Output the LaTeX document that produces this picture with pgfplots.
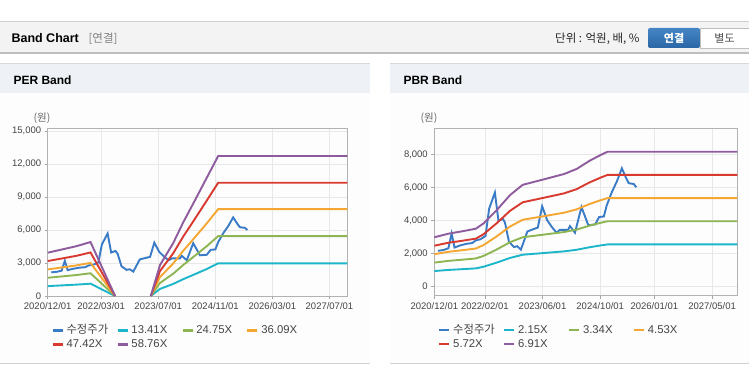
\documentclass[border=0pt]{standalone}
\usepackage{fontspec}
\setmainfont{Liberation Sans}
\newfontfamily\kr{Noto Sans CJK KR}
\usepackage{pgfplots}
\usepackage{pgfplotstable}
\pgfplotsset{compat=1.18}

\definecolor{cPrice}{HTML}{3A7BC8}
\definecolor{cCyan}{HTML}{1CB5C9}
\definecolor{cGreen}{HTML}{8DB653}
\definecolor{cOrange}{HTML}{F5A733}
\definecolor{cRed}{HTML}{D93A2F}
\definecolor{cPurple}{HTML}{8E5B9E}
\definecolor{hdrbg}{HTML}{F3F3F3}
\definecolor{ttlbg}{HTML}{EEF2F7}
\definecolor{bodybg}{HTML}{FDFDFD}
\definecolor{lineg}{HTML}{CFCFCF}
\definecolor{txt}{HTML}{444444}
\definecolor{btnA}{HTML}{4585C6}
\definecolor{btnB}{HTML}{2A66A5}

\pgfplotstableread{
x y
1.0 2150
2.5 2200
3.9 2300
4.8 3200
5.6 2350
7.2 2480
9.0 2580
10.5 2620
11.5 2780
12.8 2850
14.2 3050
15.2 4700
16.8 5680
17.8 3950
19.0 4100
19.6 3850
20.7 2700
22.1 2380
23.0 2430
24.0 2220
25.8 3320
27.3 3450
28.7 3560
29.9 4850
31.3 4000
32.7 3560
33.9 3250
34.8 3420
37.1 3420
37.6 3650
39.0 3250
40.8 4800
42.7 3700
44.6 3750
45.7 4200
47.0 4230
47.8 4900
49.2 5700
50.6 6350
52.0 7150
53.2 6550
53.9 6250
55.3 6200
56.0 6000
}\price

\pgfplotstableread{
x a b c d e
0 898 1658 2418 3177 3937
4 966 1782 2598 3414 4231
8 1033 1906 2779 3651 4525
12 1120 2067 3014 3960 4906
18.9 0 0 0 0 0
24 nan nan nan nan nan
28.9 0 0 0 0 0
31.5 644 1188 1732 2276 2820
35.2 1100 2030 2959 3888 4818
38 1529 2822 4114 5406 6699
40.8 1918 3539 5161 6781 8403
44.6 2454 4529 6604 8678 10753
47.8 2970 5450 7900 10300 12730
84 2970 5450 7900 10300 12730
}\perband

\pgfplotstableread{
x a b c d e
0 925 1436 1948 2460 2971
4 993 1543 2093 2643 3192
8 1041 1617 2193 2768 3344
11.5 1086 1687 2288 2889 3490
13.6 1183 1837 2492 3146 3801
17.3 1436 2231 3026 3821 4616
21 1720 2672 3624 4576 5528
24.5 1914 2973 4032 5091 6150
30 2010 3123 4236 5348 6461
36 2118 3290 4462 5634 6806
39.5 2215 3440 4666 5892 7117
43 2365 3674 4983 6292 7601
46 2473 3841 5210 6578 7947
48 2537 3941 5345 6750 8154
84 2537 3941 5345 6750 8154
}\pbrband

\pgfplotsset{
  bandaxis/.style={
    scale only axis,
    anchor=south west,
    xmin=0, xmax=84,
    scaled y ticks=false,
    axis line style={draw=black!30, line width=0.6pt},
    grid=major,
    major grid style={draw=black!9, line width=0.6pt},
    tick pos=left,
    tick align=outside,
    major tick length=3pt,
    tick style={draw=black!35, line width=0.6pt},
    ticklabel style={font=\fontsize{9.5}{11}\selectfont, text=txt},
    unbounded coords=jump,
    legend columns=4,
    legend cell align=left,
    legend image code/.code={\draw[##1, line width=2.6pt] (0pt,0pt) -- (10pt,0pt);},
    legend style={draw=none, fill=none, inner sep=0pt,
      font=\fontsize{11.3}{13}\selectfont, text=txt,
      anchor=north west, at={(axis description cs:0.012,-0.165)},
      column sep=0pt, row sep=1pt,
      /tikz/every odd column/.style={column sep=1.5pt},
      nodes={inner sep=1pt, text width=48.8pt, text height=8.5pt, text depth=2.5pt}},
  },
  bandline/.style={line width=1.9pt},
}

\begin{document}
\begin{tikzpicture}[x=1pt,y=1pt]
\path[use as bounding box] (0,0) rectangle (749,364);
\fill[white] (0,0) rectangle (749,364);
% header
\fill[hdrbg] (0,311) rectangle (749,342);
\draw[lineg, line width=1pt] (0,342) -- (749,342);
\draw[black!25, line width=1.2pt] (0,311) -- (749,311);
\node[anchor=west, font=\bfseries\fontsize{12.5}{14}\selectfont] at (8,325.5) {Band Chart};
\node[anchor=west, text=black!50, font=\kr\fontsize{11.5}{13}\selectfont] at (85,325.5) {[연결]};
\node[anchor=east, text=black!85, font=\kr\fontsize{11.5}{13}\selectfont] at (643,325.5) {단위 : 억원, 배, \%};
\shade[top color=btnA, bottom color=btnB, rounded corners=2pt] (648,316) rectangle (700,336);
\node[text=white, font=\kr\bfseries\fontsize{11}{13}\selectfont] at (674,326) {연결};
\filldraw[fill=white, draw=black!25, line width=0.6pt] (700,316) rectangle (749.5,336);
\node[text=black!70, font=\kr\fontsize{11}{13}\selectfont] at (724.5,326) {별도};
% panels
\fill[bodybg] (0,1) rectangle (370,271);
\fill[ttlbg] (0,271) rectangle (370,300);
\draw[black!15, line width=1pt] (0,300) -- (370,300);
\draw[black!18, line width=1pt] (0,1) -- (370,1);
\fill[bodybg] (390,1) rectangle (749,271);
\fill[ttlbg] (390,271) rectangle (749,300);
\draw[black!15, line width=1pt] (390,300) -- (749,300);
\draw[black!18, line width=1pt] (390,1) -- (749,1);
\node[anchor=west, font=\bfseries\fontsize{12}{14}\selectfont] at (10,284) {PER Band};
\node[anchor=west, font=\bfseries\fontsize{12}{14}\selectfont] at (400,284) {PBR Band};
\node[text=black!60, font=\kr\fontsize{10.5}{12}\selectfont] at (42,246) {(원)};
\node[text=black!60, font=\kr\fontsize{10.5}{12}\selectfont] at (429,246) {(원)};

% PER axis
\begin{axis}[bandaxis,
  at={(47.7pt,68pt)}, width=299.6pt, height=167.7pt,
  ymin=0, ymax=15250,
  xtick={0,15,31,47,63,79},
  xticklabels={2020/12/01,2022/03/01,2023/07/01,2024/11/01,2026/03/01,2027/07/01},
  ytick={0,3000,6000,9000,12000,15000},
  yticklabels={0,{3,000},{6,000},{9,000},{12,000},{15,000}},
]
\addplot[cPrice, bandline] table[x=x,y=y] {\price};
\addlegendentry{\kr 수정주가}
\addplot[cCyan, bandline] table[x=x,y=a] {\perband};
\addlegendentry{13.41X}
\addplot[cGreen, bandline] table[x=x,y=b] {\perband};
\addlegendentry{24.75X}
\addplot[cOrange, bandline] table[x=x,y=c] {\perband};
\addlegendentry{36.09X}
\addplot[cRed, bandline] table[x=x,y=d] {\perband};
\addlegendentry{47.42X}
\addplot[cPurple, bandline] table[x=x,y=e] {\perband};
\addlegendentry{58.76X}
\end{axis}

% PBR axis
\begin{axis}[bandaxis,
  at={(434.3pt,68.3pt)}, width=303pt, height=167.4pt,
  ymin=-570, ymax=9576,
  xtick={0,14,30,46,61,77},
  xticklabels={2020/12/01,2022/02/01,2023/06/01,2024/10/01,2026/01/01,2027/05/01},
  ytick={0,2000,4000,6000,8000},
  yticklabels={0,{2,000},{4,000},{6,000},{8,000}},
]
\addplot[cPrice, bandline] table[x=x,y=y] {\price};
\addlegendentry{\kr 수정주가}
\addplot[cCyan, bandline] table[x=x,y=a] {\pbrband};
\addlegendentry{2.15X}
\addplot[cGreen, bandline] table[x=x,y=b] {\pbrband};
\addlegendentry{3.34X}
\addplot[cOrange, bandline] table[x=x,y=c] {\pbrband};
\addlegendentry{4.53X}
\addplot[cRed, bandline] table[x=x,y=d] {\pbrband};
\addlegendentry{5.72X}
\addplot[cPurple, bandline] table[x=x,y=e] {\pbrband};
\addlegendentry{6.91X}
\end{axis}
\end{tikzpicture}
\end{document}
